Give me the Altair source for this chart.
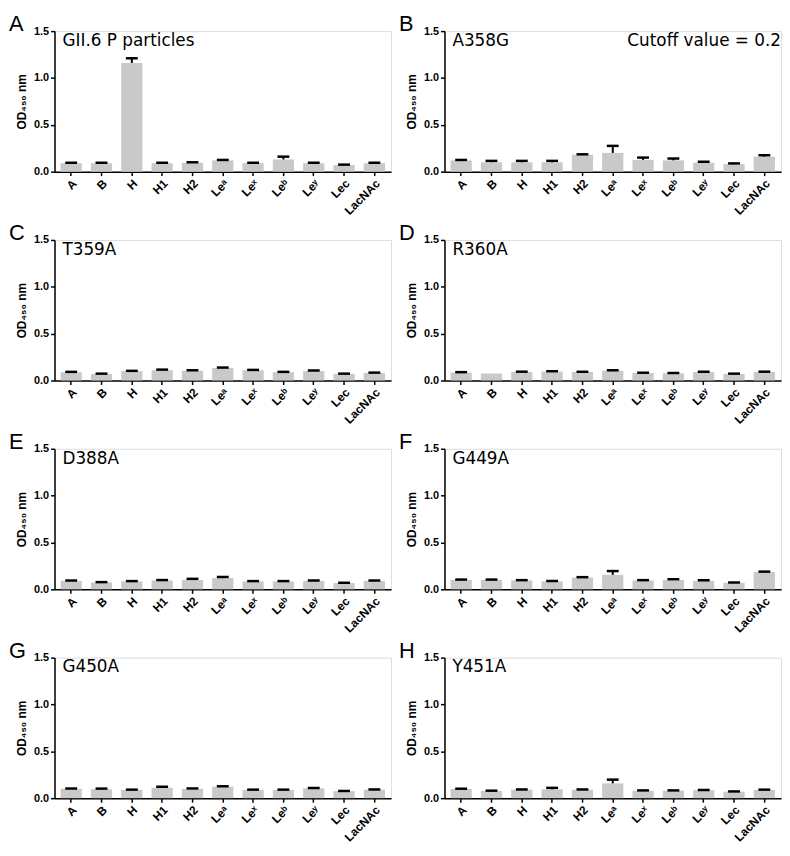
import altair as alt
import pandas as pd

categories = ["A", "B", "H", "H1", "H2", "Leᵃ", "Leˣ", "Leᵇ", "Leʸ", "Lec", "LacNAc"]
letters = ["A", "B", "C", "D", "E", "F", "G", "H"]
panel_titles = ["GII.6 P particles", "A358G", "T359A", "R360A", "D388A", "G449A", "G450A", "Y451A"]

vals_A = [0.09, 0.09, 1.16, 0.09, 0.095, 0.12, 0.09, 0.13, 0.09, 0.07, 0.09]
err_A = [0.005, 0.005, 0.05, 0.005, 0.005, 0.005, 0.005, 0.03, 0.005, 0.005, 0.005]
vals_B = [0.12, 0.10, 0.10, 0.10, 0.18, 0.20, 0.125, 0.12, 0.095, 0.08, 0.16]
err_B = [0.005, 0.015, 0.015, 0.015, 0.005, 0.075, 0.025, 0.02, 0.01, 0.008, 0.015]
vals_C = [0.088, 0.07, 0.10, 0.11, 0.105, 0.134, 0.11, 0.088, 0.10, 0.07, 0.08]
err_C = [0.004, 0.003, 0.003, 0.006, 0.004, 0.004, 0.003, 0.004, 0.007, 0.003, 0.004]
vals_D = [0.085, 0.075, 0.09, 0.095, 0.09, 0.105, 0.08, 0.077, 0.09, 0.07, 0.09]
err_D = [0.004, 0.0, 0.004, 0.004, 0.003, 0.004, 0.003, 0.003, 0.004, 0.003, 0.004]
vals_E = [0.09, 0.074, 0.085, 0.095, 0.10, 0.12, 0.085, 0.085, 0.09, 0.067, 0.09]
err_E = [0.004, 0.003, 0.003, 0.004, 0.012, 0.012, 0.003, 0.003, 0.004, 0.003, 0.004]
vals_F = [0.10, 0.10, 0.095, 0.085, 0.125, 0.155, 0.095, 0.10, 0.09, 0.07, 0.185]
err_F = [0.004, 0.004, 0.003, 0.004, 0.005, 0.04, 0.003, 0.008, 0.006, 0.003, 0.004]
vals_G = [0.10, 0.095, 0.088, 0.11, 0.10, 0.122, 0.088, 0.088, 0.105, 0.075, 0.09]
err_G = [0.003, 0.007, 0.003, 0.012, 0.004, 0.005, 0.003, 0.003, 0.004, 0.002, 0.003]
vals_H = [0.098, 0.077, 0.09, 0.095, 0.09, 0.158, 0.08, 0.08, 0.085, 0.07, 0.088]
err_H = [0.003, 0.003, 0.003, 0.015, 0.003, 0.04, 0.003, 0.003, 0.003, 0.002, 0.003]

all_vals = [vals_A, vals_B, vals_C, vals_D, vals_E, vals_F, vals_G, vals_H]
all_errs = [err_A, err_B, err_C, err_D, err_E, err_F, err_G, err_H]
cutoff_text = "Cutoff  value = 0.2"

W, H = 340, 142
FONT = "Liberation Sans"


def panel(i):
    df = pd.DataFrame({
        "cat": categories,
        "od": all_vals[i],
        "err": all_errs[i],
    })
    df["top"] = df["od"] + df["err"]
    x = alt.X("cat:N", sort=categories, title=None,
              scale=alt.Scale(paddingInner=0.3, paddingOuter=0.2),
              axis=alt.Axis(labelAngle=-45, labelFont=FONT, labelFontWeight="bold",
                            labelFontSize=12, labelColor="black", domainColor="black",
                            domainWidth=1.5, tickColor="black", tickWidth=1.5, tickSize=4,
                            labelPadding=2))
    y = alt.Y("od:Q", title="OD₄₅₀ nm",
              scale=alt.Scale(domain=[0, 1.5], nice=False),
              axis=alt.Axis(values=[0, 0.5, 1.0, 1.5], format=".1f", labelFont=FONT,
                            labelFontWeight="bold", labelFontSize=11, labelColor="black",
                            titleFont=FONT, titleFontWeight="bold", titleFontSize=12,
                            titleColor="black", domainColor="black", domainWidth=1.5,
                            tickColor="black", tickWidth=1.5, tickSize=4, grid=False,
                            titlePadding=5, labelPadding=2))
    base = alt.Chart(df)
    bars = base.mark_bar(color="#c9c9c9").encode(x=x, y=y)
    stems = base.transform_filter("datum.err > 0").mark_rule(color="black", strokeWidth=2).encode(
        x=alt.X("cat:N", sort=categories), y="od:Q", y2="top:Q")
    caps = base.transform_filter("datum.err > 0").mark_tick(
        color="black", size=12, thickness=2.5, opacity=1).encode(
        x=alt.X("cat:N", sort=categories), y="top:Q")
    title = alt.Chart(pd.DataFrame({"t": [panel_titles[i]]})).mark_text(
        font="DejaVu Sans", fontSize=17, align="left", baseline="alphabetic", color="black"
    ).encode(text="t:N", x=alt.value(8), y=alt.value(15))
    letter = alt.Chart(pd.DataFrame({"t": [letters[i]]})).mark_text(
        font=FONT, fontSize=22, align="left", baseline="alphabetic", color="black"
    ).encode(text="t:N", x=alt.value(-46), y=alt.value(0))
    layers = [bars, stems, caps, title, letter]
    if i == 1:
        cut = alt.Chart(pd.DataFrame({"t": [cutoff_text]})).mark_text(
            font="DejaVu Sans", fontSize=17, align="right", baseline="alphabetic", color="black"
        ).encode(text="t:N", x=alt.value(W), y=alt.value(15))
        layers.append(cut)
    return alt.layer(*layers).properties(width=W, height=H)


chart = alt.concat(*[panel(i) for i in range(8)], columns=2,
                   spacing={"row": 69, "column": 54}, bounds="flush").properties(
    padding=0).configure_view(stroke="transparent").configure(background="white")

chart.save("out.html", embed_options={"renderer": "svg", "actions": False})
